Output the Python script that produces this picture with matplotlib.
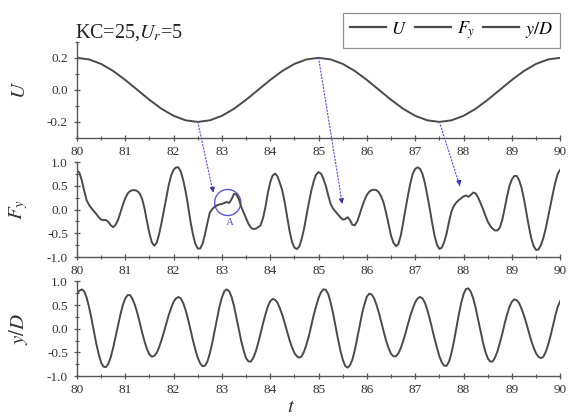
import numpy as np
import matplotlib
matplotlib.use("Agg")
import matplotlib.pyplot as plt
from matplotlib.patches import ConnectionPatch, Ellipse
from matplotlib.ticker import MultipleLocator

plt.rcParams['font.family'] = ['Liberation Serif', 'DejaVu Serif']
plt.rcParams['mathtext.fontset'] = 'stix'

# flow velocity U, read every 0.25 time units
t_u = np.linspace(80, 90, 41)
u_vals = [0.200, 0.190, 0.162, 0.118, 0.062, 0.000, -0.062, -0.118, -0.162, -0.190,
          -0.200, -0.190, -0.162, -0.118, -0.062, 0.000, 0.062, 0.118, 0.162, 0.190,
          0.200, 0.190, 0.162, 0.118, 0.062, 0.000, -0.062, -0.118, -0.162, -0.190,
          -0.200, -0.190, -0.162, -0.118, -0.062, 0.000, 0.062, 0.118, 0.162, 0.190,
          0.200]

# lift force Fy and displacement y/D, read every 0.05 time units
t_s = np.linspace(80, 90, 201)
fy_vals = [0.82, 0.78, 0.62, 0.40, 0.20, 0.10, 0.03, -0.03, -0.09, -0.16,
           -0.21, -0.22, -0.22, -0.26, -0.33, -0.37, -0.32, -0.22, -0.06, 0.10,
           0.24, 0.34, 0.39, 0.41, 0.41, 0.39, 0.34, 0.22, 0.02, -0.25,
           -0.50, -0.69, -0.76, -0.70, -0.52, -0.28, -0.02, 0.25, 0.52, 0.72,
           0.84, 0.89, 0.89, 0.80, 0.62, 0.38, 0.08, -0.25, -0.52, -0.72,
           -0.82, -0.82, -0.72, -0.52, -0.28, -0.06, 0.01, 0.06, 0.09, 0.11,
           0.12, 0.14, 0.16, 0.14, 0.22, 0.33, 0.32, 0.22, 0.06, -0.06,
           -0.18, -0.30, -0.38, -0.41, -0.40, -0.37, -0.33, -0.18, 0.05, 0.35,
           0.58, 0.72, 0.76, 0.70, 0.56, 0.40, 0.15, -0.15, -0.45, -0.68,
           -0.80, -0.83, -0.78, -0.62, -0.40, -0.12, 0.15, 0.40, 0.60, 0.74,
           0.79, 0.76, 0.65, 0.50, 0.30, 0.12, 0.02, -0.04, -0.10, -0.16,
           -0.21, -0.20, -0.16, -0.22, -0.32, -0.33, -0.25, -0.10, 0.06, 0.20,
           0.31, 0.38, 0.41, 0.42, 0.41, 0.36, 0.27, 0.13, -0.08, -0.32,
           -0.55, -0.70, -0.77, -0.73, -0.55, -0.28, 0.02, 0.30, 0.56, 0.76,
           0.86, 0.89, 0.86, 0.75, 0.56, 0.30, 0.02, -0.28, -0.55, -0.74,
           -0.83, -0.80, -0.68, -0.50, -0.25, -0.04, 0.08, 0.15, 0.20, 0.24,
           0.28, 0.30, 0.27, 0.31, 0.36, 0.34, 0.26, 0.14, 0.02, -0.12,
           -0.25, -0.34, -0.40, -0.44, -0.44, -0.38, -0.22, 0.02, 0.28, 0.50,
           0.64, 0.71, 0.71, 0.62, 0.46, 0.22, -0.06, -0.35, -0.60, -0.77,
           -0.85, -0.84, -0.75, -0.60, -0.40, -0.15, 0.10, 0.35, 0.58, 0.76,
           0.84]
yd_vals = [0.74, 0.80, 0.83, 0.79, 0.66, 0.46, 0.22, -0.05, -0.31, -0.53,
           -0.71, -0.80, -0.81, -0.74, -0.60, -0.40, -0.17, 0.07, 0.30, 0.50,
           0.64, 0.71, 0.71, 0.63, 0.50, 0.33, 0.13, -0.08, -0.27, -0.43,
           -0.54, -0.59, -0.57, -0.51, -0.39, -0.24, -0.07, 0.11, 0.29, 0.44,
           0.57, 0.64, 0.67, 0.64, 0.54, 0.39, 0.20, -0.02, -0.24, -0.44,
           -0.61, -0.73, -0.79, -0.78, -0.69, -0.52, -0.30, -0.04, 0.23, 0.47,
           0.66, 0.79, 0.83, 0.79, 0.67, 0.48, 0.24, -0.01, -0.26, -0.46,
           -0.62, -0.69, -0.69, -0.61, -0.48, -0.30, -0.10, 0.11, 0.30, 0.47,
           0.58, 0.63, 0.61, 0.55, 0.43, 0.29, 0.12, -0.06, -0.24, -0.39,
           -0.51, -0.58, -0.61, -0.58, -0.48, -0.33, -0.15, 0.07, 0.29, 0.48,
           0.65, 0.77, 0.83, 0.82, 0.73, 0.55, 0.33, 0.06, -0.21, -0.45,
           -0.65, -0.78, -0.82, -0.77, -0.65, -0.45, -0.20, 0.06, 0.32, 0.52,
           0.68, 0.74, 0.72, 0.64, 0.50, 0.33, 0.13, -0.07, -0.26, -0.41,
           -0.53, -0.58, -0.58, -0.52, -0.41, -0.26, -0.09, 0.10, 0.28, 0.43,
           0.56, 0.64, 0.67, 0.64, 0.55, 0.40, 0.21, 0.00, -0.21, -0.40,
           -0.58, -0.71, -0.78, -0.78, -0.69, -0.51, -0.27, 0.01, 0.29, 0.54,
           0.73, 0.84, 0.85, 0.78, 0.64, 0.44, 0.20, -0.04, -0.28, -0.48,
           -0.62, -0.69, -0.69, -0.61, -0.48, -0.30, -0.11, 0.11, 0.30, 0.46,
           0.57, 0.62, 0.60, 0.54, 0.42, 0.28, 0.11, -0.07, -0.25, -0.40,
           -0.52, -0.59, -0.62, -0.59, -0.49, -0.34, -0.15, 0.07, 0.28, 0.47,
           0.58]

line_c = '#4a4a4a'
txt_c = '#333333'
blue = '#5a5ad8'

fig = plt.figure(figsize=(5.74, 4.18), dpi=100)
ax1 = fig.add_axes([0.134, 0.670, 0.842, 0.230])
ax2 = fig.add_axes([0.134, 0.385, 0.842, 0.227])
ax3 = fig.add_axes([0.134, 0.100, 0.842, 0.227])

l1, = ax1.plot(t_u, u_vals, color=line_c, lw=1.4, label=r'$U$')
l2, = ax2.plot(t_s, fy_vals, color=line_c, lw=1.4, label=r'$F_y$')
l3, = ax3.plot(t_s, yd_vals, color=line_c, lw=1.4, label=r'$y/D$')

ax1.set_ylim(-0.3, 0.3)
ax1.set_yticks([-0.2, 0.0, 0.2])
ax1.yaxis.set_minor_locator(MultipleLocator(0.1))
for ax in (ax2, ax3):
    ax.set_ylim(-1.0, 1.0)
    ax.set_yticks([-1.0, -0.5, 0.0, 0.5, 1.0])
    ax.yaxis.set_minor_locator(MultipleLocator(0.25))

for ax in (ax1, ax2, ax3):
    ax.set_xlim(80, 90)
    ax.set_xticks(range(80, 91))
    ax.xaxis.set_minor_locator(MultipleLocator(0.5))
    ax.spines['top'].set_visible(False)
    ax.spines['right'].set_visible(False)
    for s in ('left', 'bottom'):
        ax.spines[s].set_color('#555555')
        ax.spines[s].set_linewidth(1.0)
    ax.tick_params(which='major', direction='inout', length=5, width=0.9,
                   colors='#555555', labelcolor=txt_c, labelsize=9.5)
    ax.tick_params(which='minor', direction='inout', length=3, width=0.8,
                   colors='#555555')
    ax.tick_params(axis='x', pad=3)
    ax.tick_params(axis='y', pad=4)
    ax.yaxis.set_major_formatter(matplotlib.ticker.FormatStrFormatter('%.1f'))
    ax.patch.set_alpha(0)

ax1.set_ylabel(r'$U$', fontsize=15, color=txt_c)
ax2.set_ylabel(r'$F_y$', fontsize=15, color=txt_c)
ax3.set_ylabel(r'$y/D$', fontsize=15, color=txt_c)
for ax in (ax1, ax2, ax3):
    ax.yaxis.set_label_coords(-0.098, 0.5)

fig.text(0.508, 0.002, r'$t$', fontsize=15, color=txt_c, ha='center', va='bottom')
fig.text(0.131, 0.910, r'KC=25,$U_r$=5', fontsize=14.5, color='#222222',
         ha='left', va='baseline')

leg = fig.legend(handles=[l1, l2, l3], loc='upper right', bbox_to_anchor=(0.975, 0.970),
                 ncol=3, fontsize=13, frameon=True, fancybox=False,
                 handlelength=2.0, handletextpad=0.3, columnspacing=0.45,
                 borderpad=0.38, borderaxespad=0.0)
leg.get_frame().set_edgecolor('#777777')
leg.get_frame().set_linewidth(0.9)
for h in leg.legend_handles:
    h.set_linewidth(1.6)

# dotted arrows from U extremes to the lift-force response
arrows = [((82.5, -0.2), (82.82, 0.36)),
          ((85.0, 0.2), (85.49, 0.12)),
          ((87.5, -0.2), (87.92, 0.50))]
for start, end in arrows:
    con = ConnectionPatch(xyA=start, coordsA=ax1.transData,
                          xyB=end, coordsB=ax2.transData,
                          color=blue, lw=0.9, linestyle=':', arrowstyle='-')
    fig.add_artist(con)
    ax2.annotate('', xy=end, xytext=(end[0] - 0.02, end[1] + 0.12),
                 arrowprops=dict(arrowstyle='-|>', color='#2a2aa0', lw=0.8,
                                 mutation_scale=7, shrinkA=0, shrinkB=0))

ax2.add_patch(Ellipse((83.12, 0.15), 0.54, 0.55, fill=False, edgecolor=blue, lw=1.0))
ax2.text(83.17, -0.27, 'A', color=blue, fontsize=8, ha='center', va='center')

fig.savefig('out.png', dpi=100)
